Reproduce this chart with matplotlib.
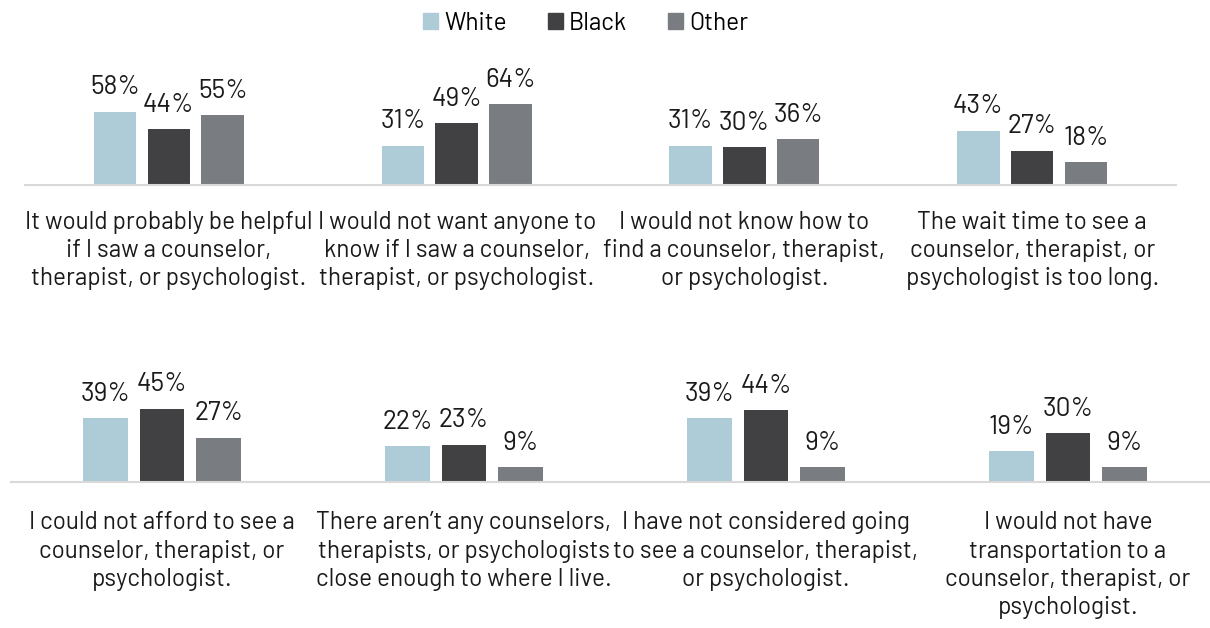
import matplotlib.pyplot as plt
from matplotlib.patches import Patch
import numpy as np

# survey results: share of respondents agreeing with each statement, by race
groups = ['White', 'Black', 'Other']
colours = ['#aecbd8', '#414042', '#797c80']

top_labels = ['It would probably be helpful\nif I saw a counselor,\ntherapist, or psychologist.',
              'I would not want anyone to\nknow if I saw a counselor,\ntherapist, or psychologist.',
              'I would not know how to\nfind a counselor, therapist,\nor psychologist.',
              'The wait time to see a\ncounselor, therapist, or\npsychologist is too long.']
top_white = [58, 31, 31, 43]
top_black = [44, 49, 30, 27]
top_other = [55, 64, 36, 18]

bottom_labels = ['I could not afford to see a\ncounselor, therapist, or\npsychologist.',
                 'There aren\u2019t any counselors,\ntherapists, or psychologists\nclose enough to where I live.',
                 'I have not considered going\nto see a counselor, therapist,\nor psychologist.',
                 'I would not have\ntransportation to a\ncounselor, therapist, or\npsychologist.']
bottom_white = [39, 22, 39, 19]
bottom_black = [45, 23, 44, 30]
bottom_other = [27, 9, 9, 9]

plt.rcParams['font.family'] = ['Barlow', 'Roboto Condensed', 'DejaVu Sans']

W, H = 1210, 628
fig = plt.figure(figsize=(W / 100, H / 100), dpi=100)


def add_row(x0, x1, ybase, height, ymax, labels, series, pad):
    # axes placed in pixel units so both rows share the same look
    ax = fig.add_axes([x0 / W, (H - ybase) / H, (x1 - x0) / W, height / H])
    x = np.arange(len(labels))
    pitch, width = 0.187, 0.148
    for i, vals in enumerate(series):
        pos = x + (i - 1) * pitch
        ax.bar(pos, vals, width, color=colours[i])
        for p, v in zip(pos, vals):
            ax.annotate(f'{v}%', (p, v), xytext=(0, 9), textcoords='offset points',
                        ha='center', va='bottom', fontsize=19, color='#1a1a1a')
    ax.set_xlim(-0.5, len(labels) - 0.5)
    ax.set_ylim(0, ymax)
    for side in ['top', 'right', 'left']:
        ax.spines[side].set_visible(False)
    ax.spines['bottom'].set_color('#d9d9d9')
    ax.spines['bottom'].set_linewidth(1.5)
    ax.set_yticks([])
    ax.set_xticks(x)
    ax.set_xticklabels(labels, fontsize=17.5, color='#1a1a1a', linespacing=1.3, va='top')
    ax.tick_params(axis='x', length=0, pad=pad)
    return ax


add_row(25, 1176, 185, 110, 110 / 1.264, top_labels, [top_white, top_black, top_other], 18.5)
add_row(11, 1219, 482, 100, 100 / 1.63, bottom_labels, [bottom_white, bottom_black, bottom_other], 21)

handles = [Patch(color=c, label=g) for c, g in zip(colours, groups)]
fig.legend(handles=handles, loc='center', bbox_to_anchor=(0.484, 0.963), ncol=3, frameon=False,
           fontsize=17.5, handlelength=0.62, handleheight=0.62, handletextpad=0.25, columnspacing=1.7)

fig.savefig('out.png', dpi=100)
